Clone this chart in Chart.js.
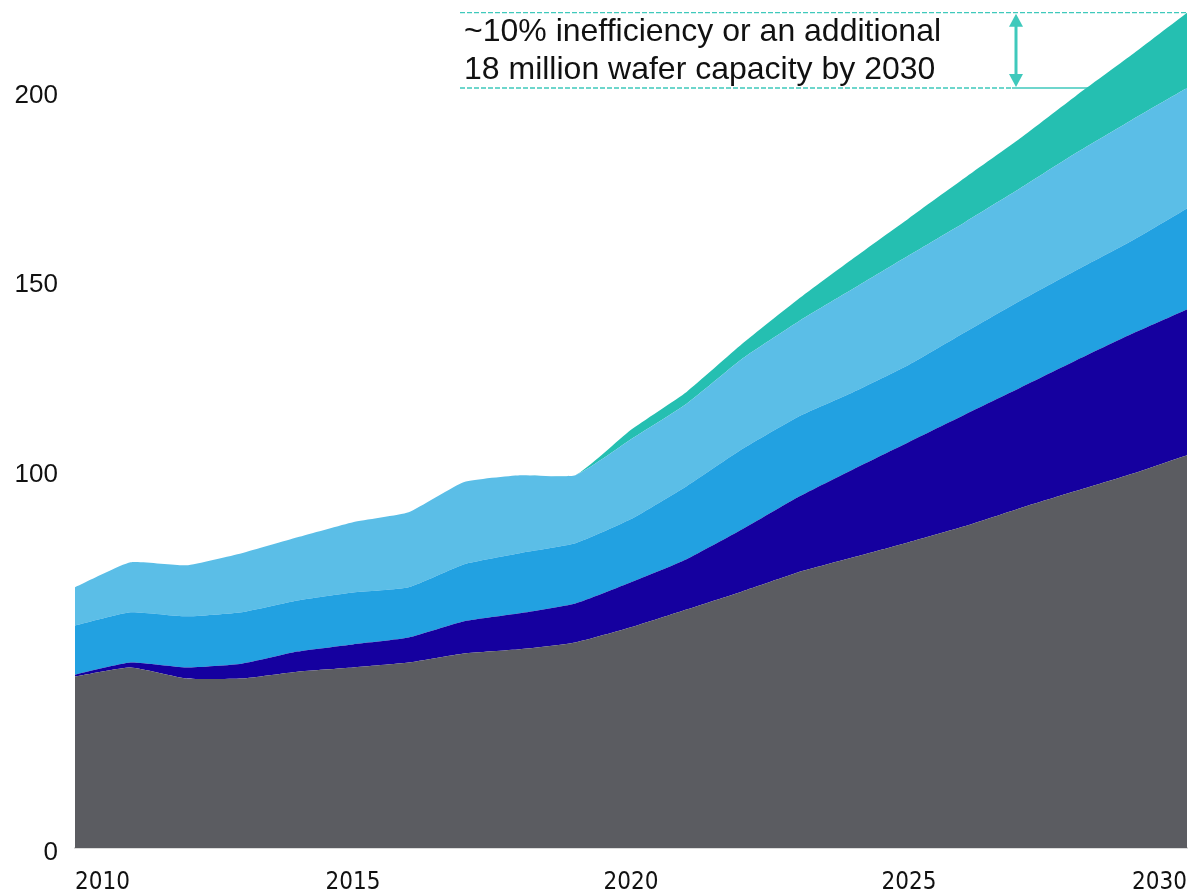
<!DOCTYPE html>
<html>
<head>
<meta charset="utf-8">
<script src="https://cdn.jsdelivr.net/npm/chart.js@4.4.1/dist/chart.umd.min.js"></script>
<style>
  html, body { margin: 0; padding: 0; background: #ffffff; }
  #wrap { position: relative; width: 1189px; height: 893px; }
</style>
</head>
<body>
<div id="wrap"><canvas id="c"></canvas></div>
<script>
// ---- data (million wafers, stacked layers) ----
const years = [2010, 2011, 2012, 2013, 2014, 2015, 2016, 2017, 2018, 2019, 2020,
               2021, 2022, 2023, 2024, 2025, 2026, 2027, 2028, 2029, 2030];
const seriesGray = [45.3, 47.7, 44.8, 44.8, 46.6, 47.7, 49.0, 51.4, 52.5, 54.3, 58.3,
                    63.0, 67.8, 72.8, 76.8, 80.8, 85.0, 89.8, 94.3, 98.8, 103.8];
const seriesNavy = [0.5, 1.3, 2.9, 3.9, 5.3, 6.1, 6.6, 8.5, 9.5, 10.3, 11.9,
                    13.3, 16.4, 19.9, 23.3, 26.5, 29.5, 31.8, 34.5, 37.0, 38.5];
const seriesMedium = [13.0, 13.3, 13.5, 13.6, 13.5, 13.7, 13.3, 15.1, 15.9, 15.9, 16.7,
                      19.3, 21.2, 21.2, 20.4, 20.4, 21.7, 23.0, 23.8, 24.6, 26.7];
const seriesLight = [10.1, 13.2, 13.5, 15.6, 16.7, 18.6, 19.8, 21.7, 20.6, 18.0, 21.1,
                     21.8, 23.9, 25.1, 27.3, 28.9, 29.1, 29.7, 31.0, 31.9, 31.8];
const seriesInefficiency = [0, 0, 0, 0, 0, 0, 0, 0, 0, 0, 2.5,
                            3.1, 3.9, 5.9, 8.0, 9.8, 11.7, 13.2, 15.1, 17.2, 19.9];
const yTickValues = [0, 100, 150, 200];
const xTickValues = [2010, 2015, 2020, 2025, 2030];
const annotationLines = ["~10% inefficiency or an additional", "18 million wafer capacity by 2030"];

const toPoints = arr => arr.map((v, i) => ({ x: years[i], y: v }));

function layer(label, arr, color, fill) {
  return {
    label: label,
    data: toPoints(arr),
    backgroundColor: color,
    borderColor: color,
    borderWidth: 0,
    pointRadius: 0,
    fill: fill,
    tension: 0.15
  };
}

const sumAt = (i, n) => {
  const all = [seriesGray, seriesNavy, seriesMedium, seriesLight, seriesInefficiency];
  let s = 0;
  for (let k = 0; k < n; k++) s += all[k][i];
  return s;
};

const TEAL = '#3fc9bc';

const annotationPlugin = {
  id: 'annot',
  beforeDatasetsDraw(chart) {
    const { ctx, chartArea, scales } = chart;
    const last = years.length - 1;
    const yLow = scales.y.getPixelForValue(sumAt(last, 4));
    ctx.save();
    ctx.strokeStyle = TEAL;
    ctx.lineWidth = 1.3;
    ctx.setLineDash([5, 2]);
    ctx.beginPath();
    ctx.moveTo(460, yLow);
    ctx.lineTo(1012, yLow);
    ctx.stroke();
    ctx.setLineDash([]);
    ctx.beginPath();
    ctx.moveTo(1012, yLow);
    ctx.lineTo(chartArea.right, yLow);
    ctx.stroke();
    ctx.restore();
  },
  afterDatasetsDraw(chart) {
    const { ctx, chartArea, scales } = chart;
    const last = years.length - 1;
    const yTop = scales.y.getPixelForValue(sumAt(last, 5));
    const yLow = scales.y.getPixelForValue(sumAt(last, 4));
    ctx.save();
    ctx.strokeStyle = TEAL;
    ctx.lineWidth = 1.3;
    ctx.setLineDash([5, 2]);
    ctx.beginPath();
    ctx.moveTo(460, yTop);
    ctx.lineTo(chartArea.right, yTop);
    ctx.stroke();
    ctx.setLineDash([]);
    // double arrow
    const ax = 1016, head = 14, hw = 7;
    ctx.lineWidth = 3;
    ctx.beginPath();
    ctx.moveTo(ax, yTop + head - 2);
    ctx.lineTo(ax, yLow - head + 2);
    ctx.stroke();
    ctx.fillStyle = TEAL;
    ctx.beginPath();
    ctx.moveTo(ax, yTop + 1);
    ctx.lineTo(ax - hw, yTop + head);
    ctx.lineTo(ax + hw, yTop + head);
    ctx.closePath();
    ctx.fill();
    ctx.beginPath();
    ctx.moveTo(ax, yLow - 1);
    ctx.lineTo(ax - hw, yLow - head);
    ctx.lineTo(ax + hw, yLow - head);
    ctx.closePath();
    ctx.fill();
    // text
    ctx.fillStyle = '#111111';
    ctx.font = '32px "Liberation Sans", Arial, sans-serif';
    ctx.textAlign = 'left';
    ctx.textBaseline = 'middle';
    ctx.fillText(annotationLines[0], 464, yTop + 19);
    ctx.fillText(annotationLines[1], 464, yTop + 57);
    ctx.restore();
  }
};

new Chart(document.getElementById('c'), {
  type: 'line',
  data: {
    datasets: [
      layer('Gray', seriesGray, '#5b5c61', 'origin'),
      layer('Navy', seriesNavy, '#15009f', '-1'),
      layer('Medium blue', seriesMedium, '#22a1e1', '-1'),
      layer('Light blue', seriesLight, '#5bbee7', '-1'),
      layer('Inefficiency', seriesInefficiency, '#25bfb1', '-1')
    ]
  },
  options: {
    responsive: true,
    maintainAspectRatio: false,
    animation: false,
    layout: { padding: { top: 4, right: 2, bottom: 0, left: 0 } },
    plugins: { legend: { display: false }, tooltip: { enabled: false } },
    elements: { line: { borderWidth: 0 } },
    scales: {
      x: {
        type: 'linear',
        min: 2010,
        max: 2030,
        grid: { display: false, drawTicks: false },
        border: { display: true, color: '#dcdcdc', width: 2 },
        afterBuildTicks: s => { s.ticks = xTickValues.map(v => ({ value: v })); },
        afterFit: s => { s.height = 45; s.paddingLeft = 0; s.paddingRight = 0; },
        ticks: {
          align: 'inner',
          maxRotation: 0,
          autoSkip: false,
          padding: 20,
          color: '#111111',
          font: { family: '"DejaVu Sans Condensed", "Liberation Sans", Arial, sans-serif', size: 24 },
          callback: v => String(v)
        }
      },
      y: {
        type: 'linear',
        stacked: true,
        min: 0,
        max: 223,
        grid: { display: false, drawTicks: false },
        border: { display: false },
        afterBuildTicks: s => { s.ticks = yTickValues.map(v => ({ value: v })); },
        afterFit: s => { s.width = 75; s.paddingTop = 0; s.paddingBottom = 0; },
        ticks: {
          padding: 17,
          labelOffset: 5,
          color: '#111111',
          font: { family: '"Liberation Sans", Arial, sans-serif', size: 26 },
          callback: v => String(v)
        }
      }
    }
  },
  plugins: [annotationPlugin]
});
</script>
</body>
</html>
